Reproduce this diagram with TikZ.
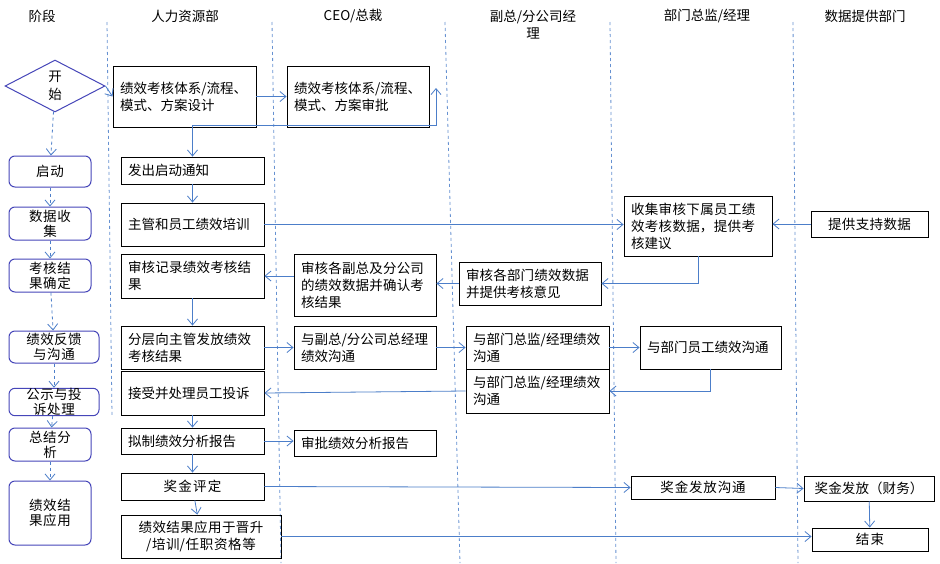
\documentclass[tikz,border=0pt]{standalone}
\usepackage{fontspec}
\setmainfont{Noto Sans CJK SC}
\XeTeXlinebreaklocale "zh"
\XeTeXlinebreakskip=0pt plus 1pt
\usetikzlibrary{arrows.meta,shapes.geometric}
\newcommand\bx[7]{\node[box,#7,minimum width={(#4-#2)*1pt},minimum height={(#5-#3)*1pt},text width={(#4-#2-14)*1pt}] (#1) at ({(#2+#4)/2},{(#3+#5)/2}) {#6};}
\newcommand\st[6]{\node[stg,minimum width={(#4-#2)*1pt},minimum height={(#5-#3)*1pt},text width={(#4-#2-10)*1pt}] (#1) at ({(#2+#4)/2},{(#3+#5)/2}) {#6};}
\begin{document}
\begin{tikzpicture}[x=1pt,y=-1pt,
 box/.style={draw=black,line width=0.9pt,inner sep=0pt,font=\fontsize{13.5}{17}\selectfont,align=left},
 stg/.style={draw=blue!45!gray,line width=1pt,rounded corners=6pt,inner sep=0pt,font=\fontsize{13.5}{15}\selectfont,align=center},
 ar/.style={draw=blue!60!cyan!70!black!70,line width=0.8pt,-{Straight Barb[length=6pt,width=10pt]}},
 lane/.style={draw=blue!60!cyan!70!black!60,dashed,line width=0.8pt},
 hd/.style={font=\fontsize{13.5}{17}\selectfont,align=center}]
\useasboundingbox (0,0) rectangle (940,563);
\fill[white] (0,0) rectangle (940,563);
\node[hd] (h1) at (42,16) {阶段};
\node[hd] (h2) at (185,16) {人力资源部};
\node[hd] (h3) at (353,16) {CEO/总裁};
\node[hd] (h4) at (533,25) {副总/分公司经\\理};
\node[hd] (h5) at (707,16) {部门总监/经理};
\node[hd] (h6) at (865,16) {数据提供部门};
\draw[lane] (107,22) -- (112,415);
\draw[lane] (272,22) -- (281,563);
\draw[lane] (445,22) -- (460,563);
\draw[lane] (610,22) -- (616,563);
\draw[lane] (793,22) -- (798,563);
\node[draw=blue!45!gray,line width=1pt,diamond,minimum width=100pt,minimum height=52pt,inner sep=0pt,aspect=2,font=\fontsize{13.5}{18}\selectfont,align=center] (d) at (55,86) {开\\始};
\st{s1}{9}{156}{91}{187}{启动}
\st{s2}{9}{207}{91}{240}{数据收\\集}
\st{s3}{9}{259}{91}{292}{考核结\\果确定}
\st{s4}{9}{331}{99}{363}{绩效反馈\\与沟通}
\st{s5}{9}{389}{99}{415}{公示与投\\诉处理}
\st{s6}{9}{428}{91}{461}{总结分\\析}
\st{s7}{9}{481}{91}{545}{绩效结\\果应用}
\foreach \a/\b in {d/s1,s1/s2,s2/s3,s3/s4,s4/s5,s5/s6,s6/s7}
 \draw[ar,dashed] (\a) -- (\b);
\bx{b1}{113}{66}{256}{127}{绩效考核体系/流程、模式、方案设计}{}
\bx{b2}{287}{66}{429}{127}{绩效考核体系/流程、模式、方案审批}{}
\bx{b3}{121}{157}{264}{184}{发出启动通知}{}
\bx{b4}{121}{203}{264}{246}{主管和员工绩效培训}{}
\bx{b5}{121}{254}{264}{298}{审核记录绩效考核结果}{}
\bx{c5}{294}{254}{436}{316}{审核各副总及分公司的绩效数据并确认考核结果}{}
\bx{d5}{459}{262}{601}{305}{审核各部门绩效数据并提供考核意见}{}
\bx{e4}{624}{196}{772}{256}{收集审核下属员工绩效考核数据，提供考核建议}{}
\bx{f4}{811}{211}{928}{237}{提供支持数据}{align=center}
\bx{b6}{121}{326}{264}{369}{分层向主管发放绩效考核结果}{}
\bx{c6}{294}{326}{436}{369}{与副总/分公司总经理绩效沟通}{}
\bx{d6}{466}{326}{609}{369}{与部门总监/经理绩效沟通}{}
\bx{e6}{640}{326}{781}{369}{与部门员工绩效沟通}{}
\bx{b7}{121}{371}{264}{415}{接受并处理员工投诉}{}
\bx{d7}{466}{369}{609}{413}{与部门总监/经理绩效沟通}{}
\bx{b8}{121}{428}{264}{454}{拟制绩效分析报告}{}
\bx{c8}{294}{430}{436}{456}{审批绩效分析报告}{}
\bx{b9}{121}{473}{264}{500}{奖金评定}{align=center}
\bx{e9}{631}{476}{775}{499}{奖金发放沟通}{align=center}
\bx{f9}{804}{476}{934}{501}{奖金发放（财务）}{align=center}
\bx{b10}{121}{515}{281}{558}{绩效结果应用于晋升\\/培训/任职资格等}{align=center}
\bx{f10}{812}{528}{928}{551}{结束}{align=center}
\draw[ar] (d.east) -- (b1.west);
\draw[ar] (b1.east) -- (b2.west);
\coordinate (k1) at (436,125);
\draw[ar,{Straight Barb[length=6pt,width=10pt]}-{Straight Barb[length=6pt,width=10pt]}] (436,88) -- (k1) -| (b3.north);
\draw[ar] (b3) -- (b4);
\draw[ar] (b4.east) -- (e4.west|-b4.east);
\draw[ar] (f4.west) -- (e4.east|-f4.west);
\draw[ar] (e4.south) |- (d5.east);
\draw[ar] (d5.west) -- (c5.east|-d5.west);
\draw[ar] (c5.west|-b5.east) -- (b5.east);
\draw[ar] (b5) -- (b6);
\draw[ar] (b6.east) -- (c6.west);
\draw[ar] (c6.east) -- (d6.west);
\draw[ar] (d6.east) -- (e6.west);
\draw[ar] (e6.south) |- (d7.east);
\draw[ar] (d7.west) -- (b7.east);
\draw[ar] (b7) -- (b8);
\draw[ar] (b8.east) -- (c8.west|-b8.east);
\draw[ar] (b8) -- (b9);
\draw[ar] (b9.east) -- (e9.west);
\draw[ar] (e9.east) -- (f9.west);
\draw[ar] (b9) -- (b10);
\draw[ar] (b10.east) -- (f10.west|-b10.east);
\draw[ar] (f9) -- (f10);
\end{tikzpicture}
\end{document}
